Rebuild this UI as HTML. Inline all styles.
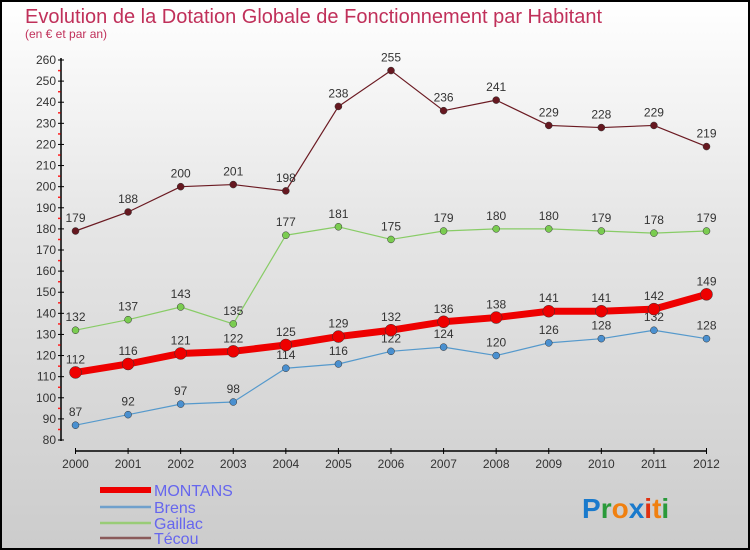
<!DOCTYPE html>
<html><head><meta charset="utf-8"><style>
body{margin:0;width:750px;height:550px;overflow:hidden;font-family:"Liberation Sans",sans-serif}
#wrap{position:absolute;left:0;top:0;width:746px;height:546px;border:2px solid #000;background:linear-gradient(#ffffff,#e6e6e6 40%,#cccccc)}
</style></head><body>
<div id="wrap">
<svg id="chart" width="750" height="550" xmlns="http://www.w3.org/2000/svg" style="position:absolute;left:-2px;top:-2px">
<text x="25" y="23" font-size="20" fill="#c0305a" font-family="Liberation Sans, sans-serif">Evolution de la Dotation Globale de Fonctionnement par Habitant</text>
<text x="25" y="38" font-size="12" fill="#c0305a">(en € et par an)</text>
<g id="axes"></g><g id="series"></g><g id="legend"></g>
<text x="582" y="518" font-size="28" font-weight="bold"><tspan fill="#1a7acc">P</tspan><tspan fill="#2a9a3a">r</tspan><tspan fill="#f08010">o</tspan><tspan fill="#1a7acc">x</tspan><tspan fill="#e03010">i</tspan><tspan fill="#f08010">t</tspan><tspan fill="#2a9a3a">i</tspan></text>
</svg></div>
<script>
const years=[2000,2001,2002,2003,2004,2005,2006,2007,2008,2009,2010,2011,2012];
const montans=[112,116,121,122,125,129,132,136,138,141,141,142,149];
const brens=[87,92,97,98,114,116,122,124,120,126,128,132,128];
const gaillac=[132,137,143,135,177,181,175,179,180,180,179,178,179];
const tecou=[179,188,200,201,198,238,255,236,241,229,228,229,219];
const yTicks=[80,90,100,110,120,130,140,150,160,170,180,190,200,210,220,230,240,250,260];
const NS='http://www.w3.org/2000/svg';
const xS=i=>75.5+i*(706.5-75.5)/12;
const yS=v=>440-(v-80)*(380/180);
function mk(t,a,p){const e=document.createElementNS(NS,t);for(const k in a)e.setAttribute(k,a[k]);p.appendChild(e);return e;}
const ax=document.getElementById('axes');
let l=mk('line',{x1:61,y1:58,x2:61,y2:441,stroke:'#000','stroke-width':1.5},ax);

l=mk('line',{x1:75,y1:451,x2:707,y2:451,stroke:'#000','stroke-width':1.5},ax);

yTicks.forEach((v,i)=>{const y=yS(v);mk('line',{x1:58,y1:y,x2:64,y2:y,stroke:'#000'},ax);
 if(i<yTicks.length-1)mk('line',{x1:58,y1:y-10.5,x2:60.5,y2:y-10.5,stroke:'#ff2020','stroke-width':1.5},ax);
 const t=mk('text',{x:56,y:y+4,'font-size':12,'text-anchor':'end',fill:'#333'},ax);t.textContent=v;
 });
years.forEach((yr,i)=>{const x=xS(i);mk('line',{x1:x,y1:448,x2:x,y2:454,stroke:'#000'},ax);
 const t=mk('text',{x:x,y:468,'font-size':12,'text-anchor':'middle',fill:'#333'},ax);t.textContent=yr;
 });
const sg=document.getElementById('series');
function draw(name,data,color,w,r,dot,labels){
 const g=mk('g',{},sg);
 const p=mk('polyline',{points:data.map((v,i)=>xS(i)+','+yS(v)).join(' '),fill:'none',stroke:color,'stroke-width':w,'stroke-linejoin':'round'},g);
 
 data.forEach((v,i)=>{const c=mk('circle',{cx:xS(i),cy:yS(v),r:r,fill:dot,stroke:'#333','stroke-width':0.5},g);
  
  if(labels){const t=mk('text',{x:xS(i),y:yS(v)-9,'font-size':12,'text-anchor':'middle',fill:'#333'},g);t.textContent=v;
  }});
}
draw('brens',brens,'#5599cc',1.2,3.5,'#4a90d0',true);
draw('gaillac',gaillac,'#88cc66',1.2,3.5,'#7acc50',true);
draw('tecou',tecou,'#6b1a22',1.2,3.5,'#661820',true);
draw('montans',montans,'#ee0000',7,6,'#ee0000',true);
const lg=document.getElementById('legend');
[['MONTANS','#ee0000',6,490],['Brens','#6fa0cc',2.5,507],['Gaillac','#99cc77',2.5,523],['Técou','#8a5a5a',2.5,538]].forEach(e=>{
 const g=mk('g',{},lg);
 mk('rect',{x:100,y:e[3]-e[2]/2,width:51,height:e[2],fill:e[1]},g);
 const t=mk('text',{x:154,y:e[3]+6,'font-size':16,fill:'#6666ee'},g);t.textContent=e[0];});
</script>
</body></html>
